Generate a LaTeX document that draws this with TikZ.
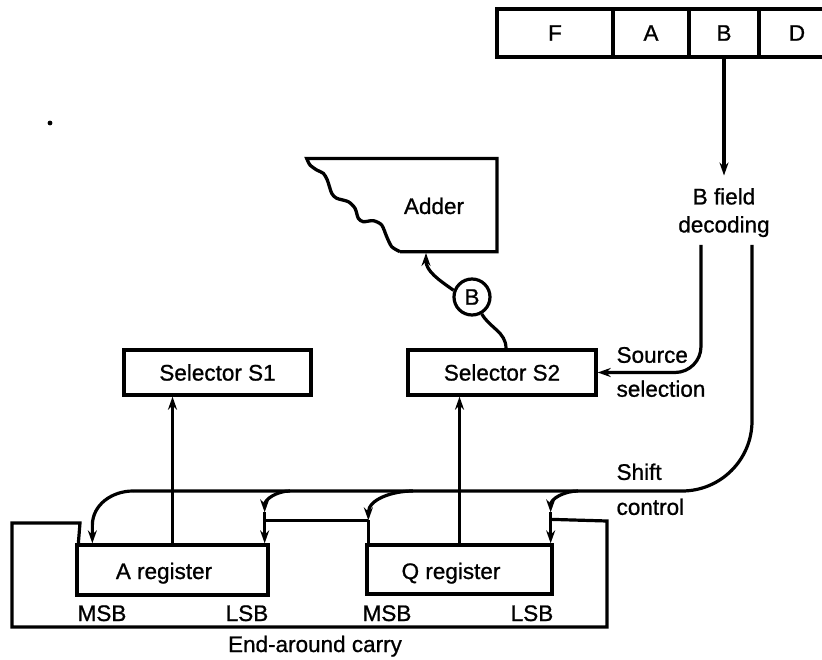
\documentclass[tikz,border=0pt]{standalone}
\usepackage{fontspec}
\setmainfont[FakeBold=0.9]{Liberation Sans}
\usetikzlibrary{arrows.meta}
\begin{document}
\begin{tikzpicture}[x=1pt,y=1pt,
  line width=3.2pt,
  >={Stealth[length=13pt,width=9pt]},
  txt/.style={font=\fontsize{22.5}{28}\selectfont, inner sep=0pt},
  box/.style={draw, line width=3.3pt, inner sep=0pt, txt},
  fieldbox/.style={box, minimum height=48},
]
\useasboundingbox (0,0) rectangle (822,-660);
\clip (0,0) rectangle (822,-660);

% instruction word fields
\node[fieldbox, minimum width=116] (fF) at (555,-33) {F};
\node[fieldbox, minimum width=76]  (fA) at (651,-33) {A};
\node[fieldbox, minimum width=70]  (fB) at (724,-33) {B};
\node[fieldbox, minimum width=76]  (fD) at (797,-33) {D};

% B field decoding
\node[txt, align=center, inner ysep=11pt] (dec) at (724,-212.6) {B field\\decoding};
\draw[->] (fB) -- (dec);
\coordinate (srcTop) at (701,-245);
\coordinate (shTop)  at (752,-245);

% adder with torn left edge
\draw[line width=3.3pt] (400,-251.7) -- (497,-251.7) -- (497,-158.5) -- plot[smooth,tension=0.45] coordinates {
  (306.7,-158.5) (310,-165) (316.7,-170) (323.3,-173.3) (327.3,-180) (331.7,-193.3)
  (336.7,-198.3) (348.3,-201.7) (355,-208.3) (358.3,-218.3) (363.3,-221.7)
  (373.3,-220.7) (381.7,-225) (386.7,-236.7) (391.7,-246.7) (400,-251.7)};
\node[txt, anchor=base] (adder) at (434,-214) {Adder};
\coordinate (addIn) at (426,-253);

% selectors
\node[box, minimum width=187, minimum height=45] (S1) at (217.5,-372.5) {Selector S1};
\node[box, minimum width=188, minimum height=45] (S2) at (502,-372.5) {Selector S2};

% B bus to the adder
\node[draw, circle, txt, minimum size=36] (cB) at (472,-297) {B};
\draw (cB.-60) to[out=-60,in=90] ([xshift=4]S2.north);
\draw[->] (cB.160) to[out=145,in=-90] (addIn);

% source selection
\draw[->, rounded corners=26pt] (srcTop) |- (S2.east);
\node[txt, align=left, anchor=west, font=\fontsize{22.5}{34}\selectfont] (src) at (615,-372) {Source\\selection};

% registers
\node[box, minimum width=191, minimum height=50] (Areg) at (172.5,-570) {};
\node[box, minimum width=185, minimum height=49] (Qreg) at (459.5,-569.5) {};
\node[txt, anchor=base] (aTxt) at (164,-579) {A register};
\node[txt, anchor=base] (qTxt) at (451,-579) {Q register};
\node[txt, anchor=base] (aMSB) at (102,-621) {MSB};
\node[txt, anchor=base] (aLSB) at (247,-621) {LSB};
\node[txt, anchor=base] (qMSB) at (387,-621) {MSB};
\node[txt, anchor=base] (qLSB) at (532,-621) {LSB};

\draw[->] (Areg.north) -- (Areg.north |- S1.south);
\draw[->] (Qreg.north) -- (Qreg.north |- S2.south);

% shift control
\node[txt, align=left, anchor=west, font=\fontsize{22.5}{35}\selectfont] (shc) at (615,-489.3) {Shift\\control};
\coordinate (b1s) at (133,-491);
\coordinate (b2s) at (290,-491);
\coordinate (b3s) at (413,-491);
\coordinate (b4s) at (578,-491);
\coordinate (aMSBin) at ([xshift=17]Areg.north west);
\coordinate (aLSBin) at ([xshift=-5]Areg.north east);
\coordinate (qMSBin) at ([xshift=3]Qreg.north west);
\coordinate (qLSBin) at ([xshift=-3]Qreg.north east);

\draw[rounded corners=70pt] (shTop) |- (b1s);
\draw[->] (b1s) to[out=180,in=90] ([yshift=18]aMSBin) -- (aMSBin);
\draw[->] (b2s) to[out=180,in=90] ([yshift=31]aLSBin);
\draw[->] ([yshift=31]aLSBin) -- (aLSBin);
\draw ([yshift=23]aLSBin) -- ([yshift=23]qMSBin);
\draw[->] (b3s) to[out=180,in=90] ([yshift=23]qMSBin);
\draw ([yshift=23]qMSBin) -- (qMSBin);
\draw[->] (b4s) to[out=180,in=90] ([yshift=31]qLSBin);
\draw[->] ([yshift=31]qLSBin) -- (qLSBin);

% end-around carry loop
\coordinate (loopNE) at (607,-521);
\coordinate (loopSW) at (12,-627);
\draw ([yshift=24]qLSBin) -- (loopNE) |- (loopSW) |- (80,-523) -- ([xshift=3]Areg.north west);
\node[txt, anchor=base] (eac) at (315,-652) {End-around carry};

% speck
\fill (50,-123) circle (2.4);
\end{tikzpicture}
\end{document}
